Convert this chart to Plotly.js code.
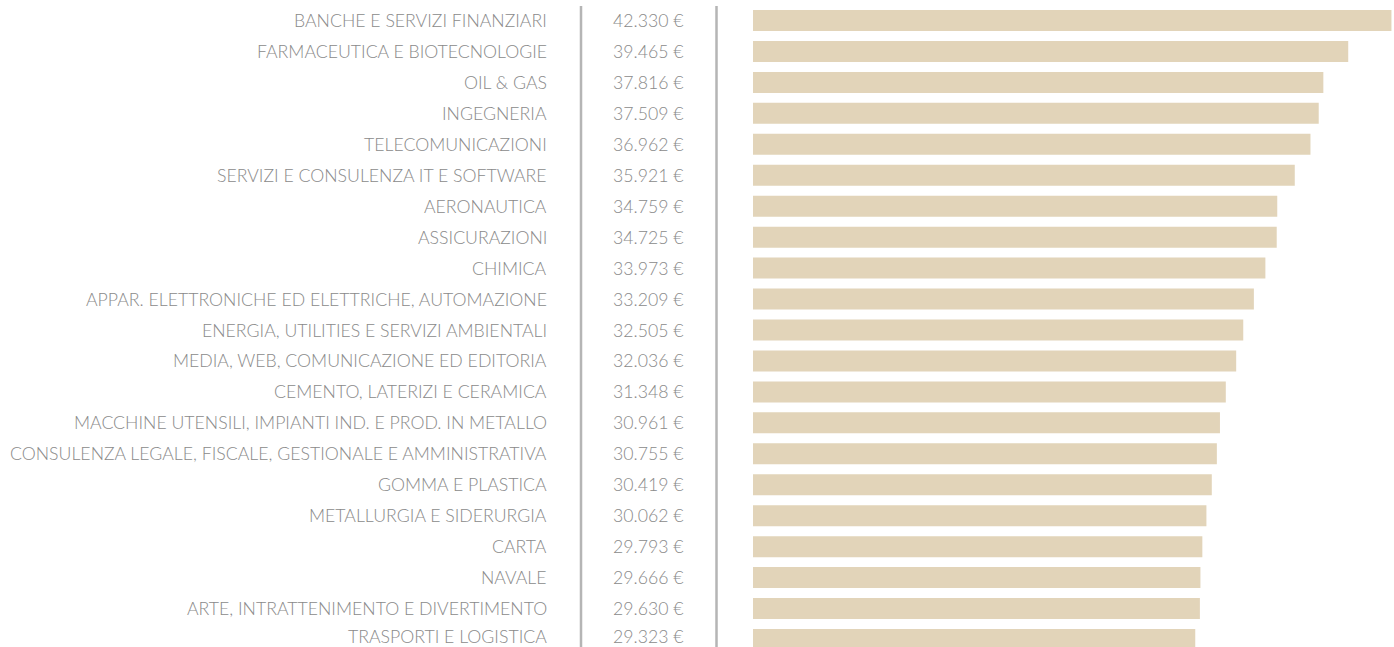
<!DOCTYPE html>
<html>
<head>
<meta charset="utf-8">
<script src="https://cdn.plot.ly/plotly-3.0.1.min.js"></script>
<style>html,body{margin:0;padding:0;background:#fff;}#chart{width:1394px;height:647px;}</style>
</head>
<body>
<div id="chart"></div>
<script>
const categories = [
  "BANCHE E SERVIZI FINANZIARI",
  "FARMACEUTICA E BIOTECNOLOGIE",
  "OIL & GAS",
  "INGEGNERIA",
  "TELECOMUNICAZIONI",
  "SERVIZI E CONSULENZA IT E SOFTWARE",
  "AERONAUTICA",
  "ASSICURAZIONI",
  "CHIMICA",
  "APPAR. ELETTRONICHE ED ELETTRICHE, AUTOMAZIONE",
  "ENERGIA, UTILITIES E SERVIZI AMBIENTALI",
  "MEDIA, WEB, COMUNICAZIONE ED EDITORIA",
  "CEMENTO, LATERIZI E CERAMICA",
  "MACCHINE UTENSILI, IMPIANTI IND. E PROD. IN METALLO",
  "CONSULENZA LEGALE, FISCALE, GESTIONALE E AMMINISTRATIVA",
  "GOMMA E PLASTICA",
  "METALLURGIA E SIDERURGIA",
  "CARTA",
  "NAVALE",
  "ARTE, INTRATTENIMENTO E DIVERTIMENTO",
  "TRASPORTI E LOGISTICA"
];
const values = [42330, 39465, 37816, 37509, 36962, 35921, 34759, 34725, 33973, 33209, 32505, 32036, 31348, 30961, 30755, 30419, 30062, 29793, 29666, 29630, 29323];
const valueLabels = ["42.330 €", "39.465 €", "37.816 €", "37.509 €", "36.962 €", "35.921 €", "34.759 €", "34.725 €", "33.973 €", "33.209 €", "32.505 €", "32.036 €", "31.348 €", "30.961 €", "30.755 €", "30.419 €", "30.062 €", "29.793 €", "29.666 €", "29.630 €", "29.323 €"];

const W = 1394, H = 647;
const idx = categories.map((_, i) => i);

const textFont = {family: 'Lato, "Open Sans", sans-serif', size: 17.7, color: '#8a8a8a', weight: 300};

const annotations = [];
categories.forEach((c, i) => {
  const ys = (i === categories.length - 1) ? 3 : 0;
  annotations.push({xref: 'paper', yref: 'y', x: 549 / W, y: i, yshift: ys, text: c, showarrow: false, xanchor: 'right', yanchor: 'middle', font: textFont});
  annotations.push({xref: 'paper', yref: 'y', x: 648 / W, y: i, yshift: ys, text: valueLabels[i], showarrow: false, xanchor: 'center', yanchor: 'middle', font: textFont});
});

const data = [{
  type: 'bar',
  orientation: 'h',
  x: values,
  y: idx,
  marker: {color: '#e2d4b9'},
  hoverinfo: 'none'
}];

const layout = {
  width: W, height: H,
  margin: {l: 0, r: 0, t: 0, b: 0},
  paper_bgcolor: '#ffffff',
  plot_bgcolor: '#ffffff',
  showlegend: false,
  bargap: 0.32,
  xaxis: {domain: [753 / W, 1], range: [0, 42500], visible: false, fixedrange: true},
  yaxis: {range: [20 + (H - 639.5) / 30.95, -20.5 / 30.95], visible: false, fixedrange: true},
  annotations: annotations,
  shapes: [
    {type: 'line', xref: 'paper', yref: 'paper', x0: 581 / W, x1: 581 / W, y0: 0, y1: 1 - 6 / H, line: {color: '#b5b5b5', width: 2.5}},
    {type: 'line', xref: 'paper', yref: 'paper', x0: 716.5 / W, x1: 716.5 / W, y0: 0, y1: 1 - 6 / H, line: {color: '#b5b5b5', width: 2.5}}
  ]
};

Plotly.newPlot('chart', data, layout, {displayModeBar: false, staticPlot: true});
</script>
</body>
</html>
